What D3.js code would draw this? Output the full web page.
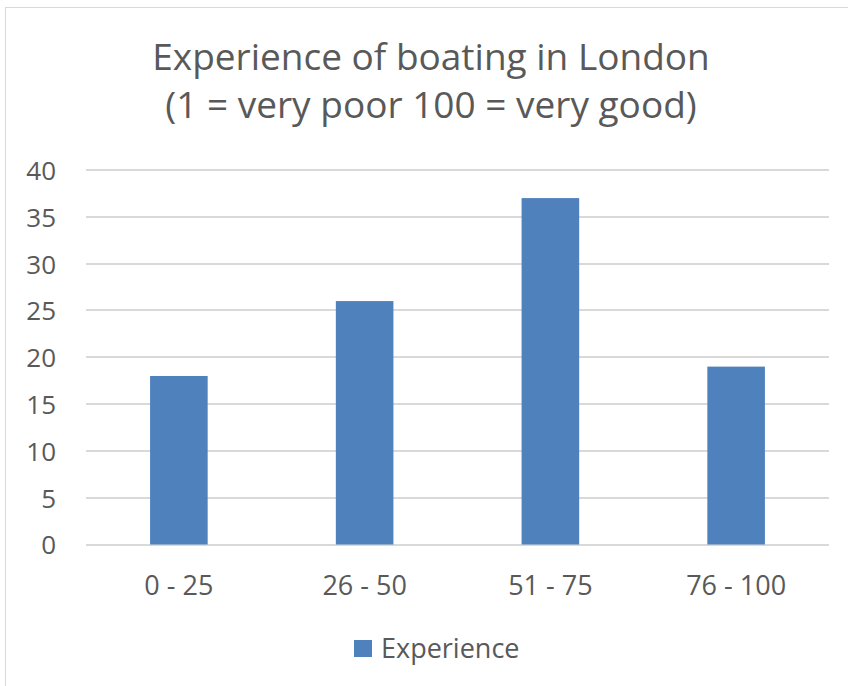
<!DOCTYPE html>
<html>
<head>
<meta charset="utf-8">
<script src="https://cdn.jsdelivr.net/npm/d3@7"></script>
<style>
body { margin: 0; background: #fff; }
text { font-family: "Open Sans", sans-serif; fill: #595959; }
</style>
</head>
<body>
<div id="chart"></div>
<script>
var categories = ["0 - 25", "26 - 50", "51 - 75", "76 - 100"]
var experience = [18, 26, 37, 19]
var yTicks = [0, 5, 10, 15, 20, 25, 30, 35, 40]
var seriesName = "Experience"
var titleLines = ["Experience of boating in London", "(1 = very poor 100 = very good)"]

var w = 848, h = 686
var plotLeft = 86, plotRight = 829, plotTop = 170, plotBottom = 544.5

var svg = d3.select("#chart")
  .append("svg")
  .attr("width", w)
  .attr("height", h)

// chart frame
svg.append("rect")
  .attr("x", 5.5).attr("y", 7.5)
  .attr("width", w + 10).attr("height", h + 10)
  .attr("fill", "none")
  .attr("stroke", "#d9d9d9")

var x = d3.scaleBand()
  .domain(categories)
  .range([plotLeft, plotRight])
  .paddingInner(0.69)
  .paddingOuter(0.345)

var y = d3.scaleLinear()
  .domain([0, 40])
  .range([plotBottom, plotTop])

// gridlines
svg.append("g")
  .selectAll("line")
  .data(yTicks)
  .enter()
  .append("line")
  .attr("x1", plotLeft).attr("x2", plotRight)
  .attr("y1", function(d) { return Math.round(y(d)) })
  .attr("y2", function(d) { return Math.round(y(d)) })
  .style("stroke", "#d9d9d9")
  .style("stroke-width", 2)

// y axis labels
var yAxis = d3.axisLeft(y).tickValues(yTicks).tickSize(0).tickPadding(0)
var gy = svg.append("g")
  .attr("transform", "translate(56,0)")
  .call(yAxis)
gy.select(".domain").remove()
gy.selectAll("text")
  .style("font-size", "26px")
  .style("font-family", "Open Sans")
  .attr("fill", "#595959")
  .attr("dy", "0.36em")

// bars
svg.append("g")
  .selectAll("rect")
  .data(experience)
  .enter()
  .append("rect")
  .attr("x", function(d, i) { return x(categories[i]) })
  .attr("y", function(d) { return y(d) })
  .attr("width", x.bandwidth())
  .attr("height", function(d) { return y(0) - y(d) })
  .attr("fill", "#4f81bd")

// x axis labels
var xAxis = d3.axisBottom(x).tickSize(0).tickPadding(0)
var gx = svg.append("g")
  .attr("transform", "translate(0,585)")
  .call(xAxis)
gx.select(".domain").remove()
gx.selectAll("text")
  .style("font-size", "27px")
  .style("font-family", "Open Sans")
  .attr("fill", "#595959")
  .attr("dy", "0.36em")

// title
svg.append("g")
  .selectAll("text")
  .data(titleLines)
  .enter()
  .append("text")
  .attr("x", 431)
  .attr("y", function(d, i) { return 70 + i * 48 })
  .attr("text-anchor", "middle")
  .style("font-size", "37px")
  .text(function(d) { return d })

// legend
svg.append("rect")
  .attr("x", 354).attr("y", 640)
  .attr("width", 18).attr("height", 17)
  .attr("fill", "#4f81bd")
svg.append("text")
  .attr("x", 381).attr("y", 658)
  .style("font-size", "27px")
  .text(seriesName)
</script>
</body>
</html>
